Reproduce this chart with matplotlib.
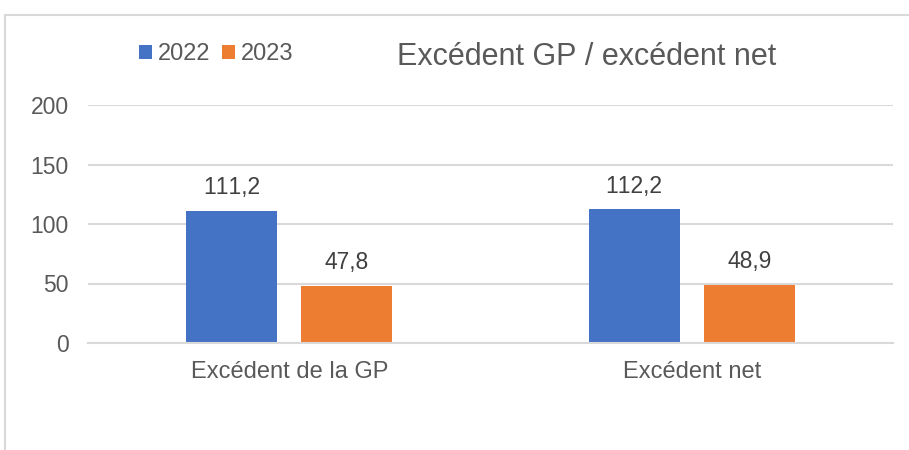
import numpy as np
import matplotlib
matplotlib.use('Agg')
import matplotlib.pyplot as plt
from matplotlib.lines import Line2D

plt.rcParams['font.family'] = ['Liberation Sans', 'DejaVu Sans']
plt.rcParams['text.kerning_factor'] = 6  #no kerning, like the office renderer

#data
categories = ['Excédent de la GP', 'Excédent net']
years = ['2022', '2023']
values2022 = [111.2, 112.2]
values2023 = [47.8, 48.9]
yTicks = [0, 50, 100, 150, 200]

textColor = '#595959'
gridColor = '#D9D9D9'
colors = ['#4472C4', '#ED7D31']

fig = plt.figure(figsize=(9.09, 4.5), dpi=100)
ax = fig.add_axes([88 / 909, 107 / 450, 805 / 909, 238 / 450])

x = np.arange(len(categories))
barWidth = 0.226
offset = 0.143

bars1 = ax.bar(x - offset, values2022, barWidth, color=colors[0], label=years[0], zorder=3)
bars2 = ax.bar(x + offset, values2023, barWidth, color=colors[1], label=years[1], zorder=3)

for bars in (bars1, bars2):
    ax.bar_label(bars, labels=[f'{v:.1f}'.replace('.', ',') for v in bars.datavalues],
                 padding=8.5, fontsize=16.5, color='#404040')

ax.set_xlim(-0.5, len(categories) - 0.5)
ax.set_ylim(0, 200)
ax.set_yticks(yTicks)
ax.set_xticks(x)
ax.set_xticklabels(categories, fontsize=17)
ax.tick_params(axis='both', length=0, colors=textColor)
ax.tick_params(axis='y', labelsize=16.5, pad=14)
ax.tick_params(axis='x', pad=13)
ax.grid(axis='y', color=gridColor, linewidth=1.5, zorder=0)
for side in ['top', 'right', 'left']:
    ax.spines[side].set_visible(False)
ax.spines['bottom'].set_color(gridColor)
ax.spines['bottom'].set_linewidth(1.5)
ax.spines['bottom'].set_zorder(4)

fig.text(587 / 909, 1 - 57 / 450, 'Excédent GP / excédent net', fontsize=22,
         color=textColor, ha='center', va='center')

fig.legend(handles=[bars1, bars2], labels=years, loc='center left',
           bbox_to_anchor=(139 / 909, 1 - 54 / 450), ncol=2, frameon=False,
           fontsize=17, labelcolor=textColor, handlelength=0.55, handleheight=0.55,
           handletextpad=0.25, columnspacing=0.5, borderpad=0, borderaxespad=0)

#chart area border (only top and left edges are visible in the crop)
fig.add_artist(Line2D([5 / 909, 1], [1 - 15 / 450, 1 - 15 / 450], color=gridColor, linewidth=1.5))
fig.add_artist(Line2D([5 / 909, 5 / 909], [0, 1 - 15 / 450], color=gridColor, linewidth=1.5))

fig.savefig('out.png', dpi=100)
